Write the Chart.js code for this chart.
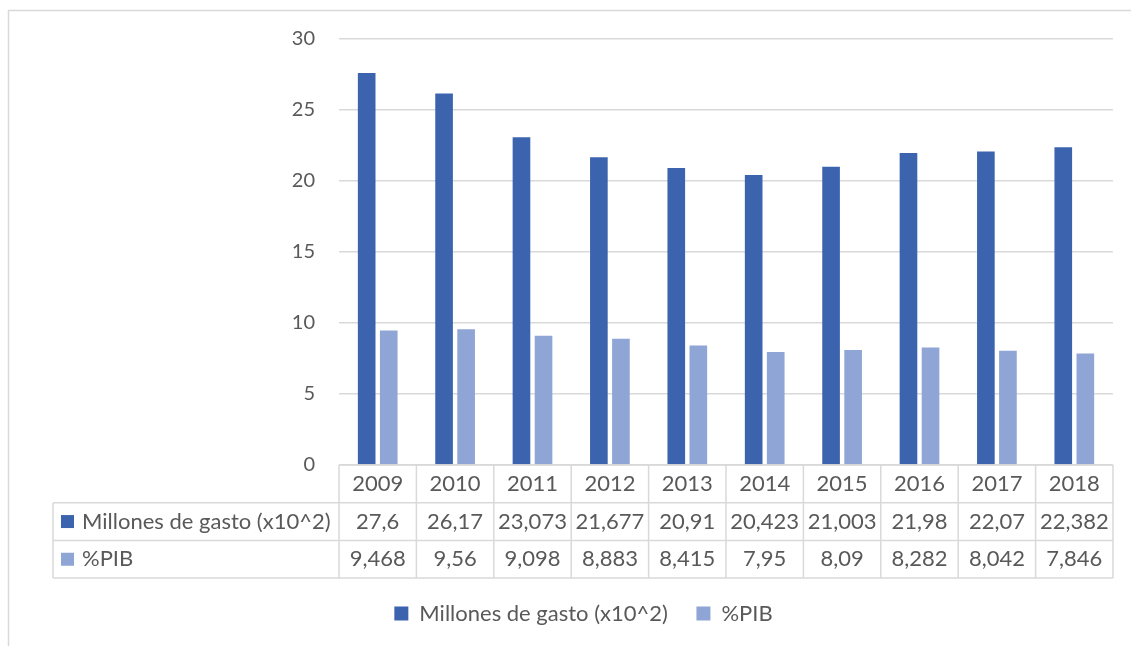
<!DOCTYPE html>
<html>
<head>
<meta charset="utf-8">
<script src="https://cdn.jsdelivr.net/npm/chart.js@4.4.1/dist/chart.umd.min.js"></script>
<style>
  html, body { margin: 0; padding: 0; background: #fff; }
  #wrap { width: 1131px; height: 646px; }
</style>
</head>
<body>
<div id="wrap"><canvas id="chart" width="1131" height="646"></canvas></div>
<script>
// data
const years = ['2009', '2010', '2011', '2012', '2013', '2014', '2015', '2016', '2017', '2018'];
const gasto = [27.6, 26.17, 23.073, 21.677, 20.91, 20.423, 21.003, 21.98, 22.07, 22.382];
const pib = [9.468, 9.56, 9.098, 8.883, 8.415, 7.95, 8.09, 8.282, 8.042, 7.846];
const yTicks = [0, 5, 10, 15, 20, 25, 30];

const DARK = '#3c64ae';
const LIGHT = '#8fa5d6';
const LINE = '#d9d9d9';
const TEXT = '#595959';
const FONT = 'Lato, "Open Sans", sans-serif';

Chart.defaults.font.family = FONT;
Chart.defaults.color = TEXT;

const fmt = v => String(v).replace('.', ',');

// outer chart frame (Excel style)
const framePlugin = {
  id: 'frame',
  beforeDraw(chart) {
    const ctx = chart.ctx;
    ctx.save();
    ctx.strokeStyle = LINE;
    ctx.lineWidth = 1.5;
    ctx.strokeRect(8.5, 10.5, 1200, 700);
    ctx.restore();
  }
};

// data table under the plot area
const tablePlugin = {
  id: 'dataTable',
  afterDraw(chart) {
    const ctx = chart.ctx;
    const x = chart.scales.x;
    const area = chart.chartArea;
    const rowH = 37.7;
    const top = area.bottom;
    const labelLeft = 53;
    const rows = [
      { name: 'Millones de gasto (x10^2)', color: DARK, values: gasto },
      { name: '%PIB', color: LIGHT, values: pib }
    ];

    ctx.save();
    ctx.strokeStyle = LINE;
    ctx.lineWidth = 1.5;

    // horizontal lines
    ctx.beginPath();
    ctx.moveTo(area.left, top);
    ctx.lineTo(area.right, top);
    for (let r = 1; r <= 3; r++) {
      ctx.moveTo(labelLeft, top + r * rowH);
      ctx.lineTo(area.right, top + r * rowH);
    }
    // vertical lines
    const bounds = [area.left];
    for (let i = 0; i < years.length - 1; i++) {
      bounds.push((x.getPixelForValue(i) + x.getPixelForValue(i + 1)) / 2);
    }
    bounds.push(area.right);
    bounds.forEach(b => {
      ctx.moveTo(b, top);
      ctx.lineTo(b, top + 3 * rowH);
    });
    ctx.moveTo(labelLeft, top + rowH);
    ctx.lineTo(labelLeft, top + 3 * rowH);
    ctx.stroke();

    // text
    ctx.fillStyle = TEXT;
    ctx.font = '22px ' + FONT;
    ctx.textAlign = 'center';
    ctx.textBaseline = 'middle';
    years.forEach((yr, i) => {
      const cx = x.getPixelForValue(i);
      ctx.fillText(yr, cx, top + rowH * 0.5);
      rows.forEach((row, r) => {
        ctx.fillText(fmt(row.values[i]), cx, top + rowH * (r + 1.5));
      });
    });

    ctx.textAlign = 'left';
    rows.forEach((row, r) => {
      const cy = top + rowH * (r + 1.5);
      ctx.fillStyle = row.color;
      ctx.fillRect(61, cy - 6.5, 13, 13);
      ctx.fillStyle = TEXT;
      ctx.fillText(row.name, 82, cy);
    });
    ctx.restore();
  }
};

new Chart(document.getElementById('chart'), {
  type: 'bar',
  data: {
    labels: years,
    datasets: [
      { label: 'Millones de gasto (x10^2)', data: gasto, backgroundColor: DARK },
      { label: '%PIB', data: pib, backgroundColor: LIGHT }
    ]
  },
  options: {
    responsive: false,
    animation: false,
    events: [],
    categoryPercentage: 0.57,
    barPercentage: 0.8,
    layout: { padding: { left: 54, right: 18, top: 39, bottom: 11.5 } },
    scales: {
      x: {
        grid: { display: false },
        border: { display: false },
        ticks: { display: false },
        afterFit(scale) { scale.height = 109; }
      },
      y: {
        min: 0,
        max: 30,
        afterBuildTicks(scale) { scale.ticks = yTicks.map(v => ({ value: v })); },
        afterFit(scale) { scale.width = 285; },
        grid: { color: LINE, lineWidth: 1.5, drawTicks: false },
        border: { display: false },
        ticks: { padding: 24, font: { size: 20 }, color: TEXT }
      }
    },
    plugins: {
      legend: {
        position: 'bottom',
        labels: {
          boxWidth: 14,
          boxHeight: 14,
          padding: 28.5,
          font: { size: 22 },
          color: TEXT
        }
      },
      tooltip: { enabled: false }
    }
  },
  plugins: [framePlugin, tablePlugin]
});
</script>
</body>
</html>
